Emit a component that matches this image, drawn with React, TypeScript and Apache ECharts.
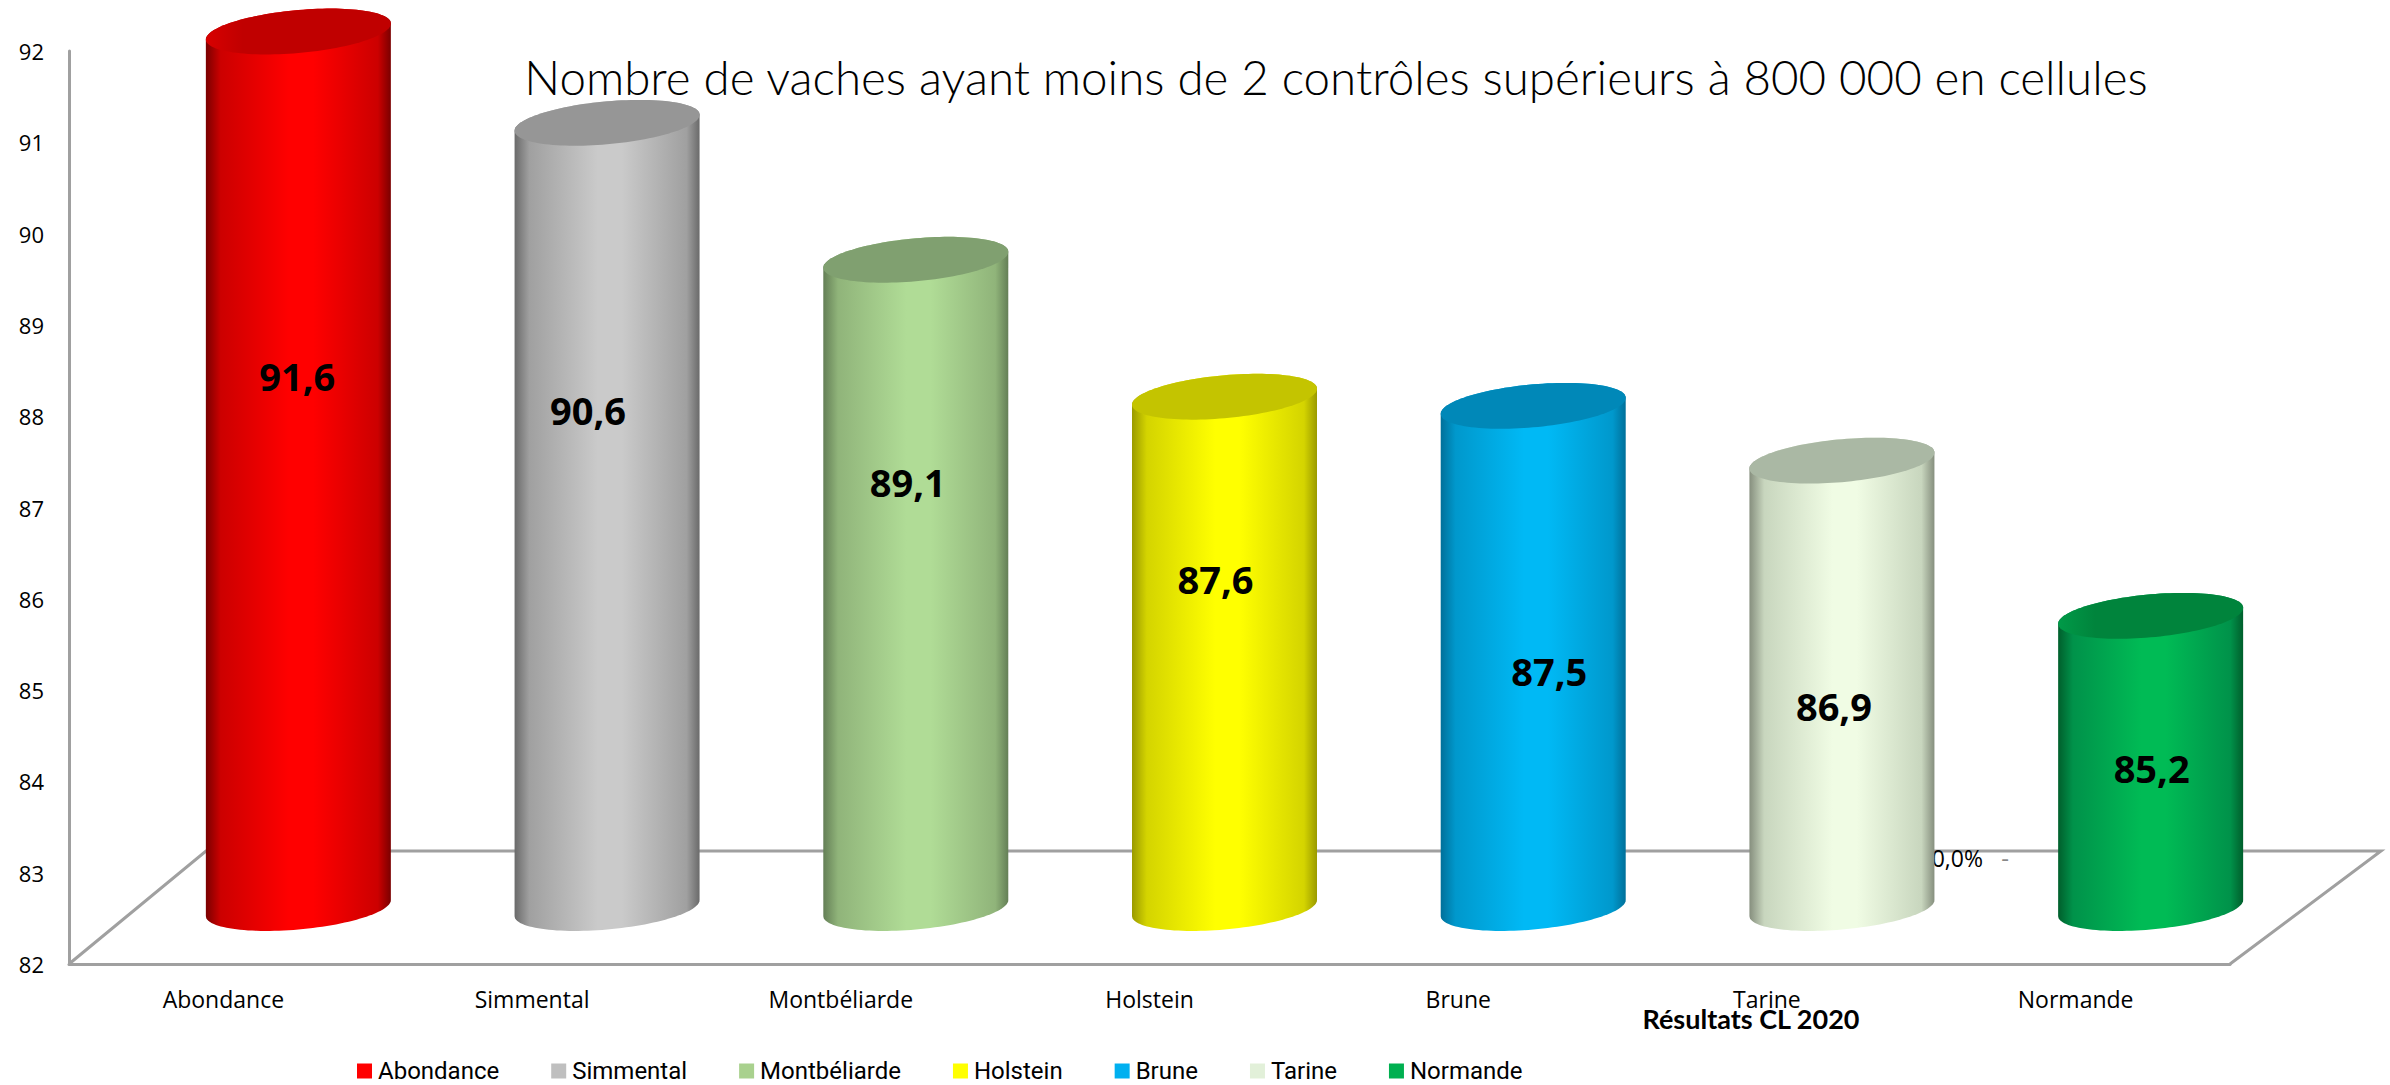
import React, { useEffect, useRef } from "react";
import * as echarts from "echarts";

const categories = ["Abondance", "Simmental", "Montbéliarde", "Holstein", "Brune", "Tarine", "Normande"];
const values = [91.6, 90.6, 89.1, 87.6, 87.5, 86.9, 85.2];
const baseColors = ["#FF0000", "#CACACA", "#B0DC96", "#FFFF00", "#00B9F5", "#F0FCE4", "#00BB55"];
const midColors = ["#CC0000", "#A0A0A0", "#90B47A", "#D4D400", "#0098CC", "#C8D6BE", "#00924A"];
const capColors = ["#C00000", "#969696", "#80A070", "#C4C400", "#0088B8", "#AAB8A4", "#00843C"];
const capRimColors = ["#D80000", "#969696", "#80A070", "#C4C400", "#0088B8", "#AAB8A4", "#009A48"];
const edgeColors = ["#7A0000", "#6A6A6A", "#647F56", "#9A9A00", "#00709A", "#868F7E", "#005F2C"];
const legendColors = ["#FF0000", "#BFBFBF", "#A9D18E", "#FFFF00", "#00B0F0", "#E2F0D9", "#00B050"];
const yTicks = [82, 83, 84, 85, 86, 87, 88, 89, 90, 91, 92];
const labelShiftX = [-1, -19, -8, -9, 16, -8, 1];
const labelShiftY = [-94, -105, -102, -73, 14, 22, 6];

const DEPTH_X = 75;
const DEPTH_Y = -56;
const RX = 92.5;
const TILT = -8;
const RY = 21.5;

const FONT = "'Open Sans', 'Noto Sans', sans-serif";

function ell(cx: number, cy: number, t: number): number[] {
  return [cx + RX * Math.cos(t), cy + TILT * Math.cos(t) + RY * Math.sin(t)];
}

function renderCylinder(idx: number) {
  return (_: any, api: any) => {
    const top = api.coord([api.value(0), api.value(1)]);
    const base = api.coord([api.value(0), 82]);
    const cx = top[0] + DEPTH_X;
    const topY = top[1] + DEPTH_Y;
    const baseY = base[1] + DEPTH_Y;
    const body: number[][] = [];
    const n = 60;
    for (let k = 0; k <= n; k++) body.push(ell(cx, baseY, (Math.PI * k) / n));
    for (let k = 0; k <= n; k++) body.push(ell(cx, topY, Math.PI + (Math.PI * k) / n));
    const cap: number[][] = [];
    for (let k = 0; k < 2 * n; k++) cap.push(ell(cx, topY, (Math.PI * k) / n));
    const midY = (topY + baseY) / 2 + labelShiftY[idx];
    return {
      type: "group",
      children: [
        {
          type: "polygon",
          shape: { points: body },
          style: {
            fill: {
              type: "linear", x: 0, y: 0, x2: 1, y2: 0,
              colorStops: [
                { offset: 0, color: edgeColors[idx] },
                { offset: 0.08, color: midColors[idx] },
                { offset: 0.45, color: baseColors[idx] },
                { offset: 0.58, color: baseColors[idx] },
                { offset: 0.93, color: midColors[idx] },
                { offset: 1, color: edgeColors[idx] },
              ],
            },
          },
        },
        {
          type: "polygon",
          shape: { points: cap },
          style: {
            fill: {
              type: "linear", x: 0, y: 0, x2: 1, y2: 0,
              colorStops: [
                { offset: 0, color: capRimColors[idx] },
                { offset: 0.2, color: capColors[idx] },
                { offset: 1, color: capColors[idx] },
              ],
            },
          },
        },
        {
          type: "text",
          z2: 20,
          style: {
            x: cx + labelShiftX[idx],
            y: midY,
            text: String(api.value(1)).replace(".", ","),
            font: `bold 38px ${FONT}`,
            fill: "#000",
            align: "center",
            verticalAlign: "middle",
          },
        },
      ],
    };
  };
}

export default function App() {
  const ref = useRef<HTMLDivElement>(null);
  useEffect(() => {
    document.body.style.margin = "0";
    const chart = echarts.init(ref.current!, undefined, { renderer: "svg" });
    chart.setOption({
      animation: false,
      backgroundColor: "#fff",
      grid: { left: 69, right: 160, top: 51, bottom: 121, containLabel: false },
      xAxis: {
        type: "category",
        data: categories,
        axisLine: { show: true, lineStyle: { color: "#A0A0A0", width: 3 } },
        axisTick: { show: false },
        axisLabel: { color: "#000", fontFamily: FONT, fontSize: 23, margin: 23 },
      },
      yAxis: {
        type: "value",
        min: yTicks[0],
        max: yTicks[yTicks.length - 1],
        interval: 1,
        axisLine: { show: true, lineStyle: { color: "#A0A0A0", width: 3 } },
        axisTick: { show: false },
        splitLine: { show: false },
        axisLabel: { color: "#000", fontFamily: FONT, fontSize: 22, margin: 25 },
      },
      legend: {
        left: 357,
        top: 1059,
        icon: "rect",
        itemWidth: 15,
        itemHeight: 15,
        itemGap: 52,
        padding: 0,
        textStyle: { color: "#000", fontFamily: "Roboto, sans-serif", fontSize: 24, lineHeight: 24, padding: [0, 0, 0, 1] },
        data: categories,
      },
      graphic: [
        {
          type: "polyline",
          z: 0,
          shape: { points: [[69, 964], [206, 851], [2381, 851], [2230, 964]] },
          style: { stroke: "#A0A0A0", lineWidth: 3, fill: "none" },
        },
        {
          type: "text",
          z: 1,
          x: 1983,
          y: 858,
          style: { text: "0,0%", font: `23px ${FONT}`, fill: "#000", align: "right", verticalAlign: "middle" },
        },
        {
          type: "text",
          z: 1,
          x: 2005,
          y: 857,
          style: { text: "-", font: `24px ${FONT}`, fill: "#888", align: "center", verticalAlign: "middle" },
        },
        {
          type: "text",
          z: 10,
          x: 1336,
          y: 76,
          style: {
            text: "Nombre de vaches ayant moins de 2 contrôles supérieurs à 800 000 en cellules",
            font: "300 47.5px Lato, sans-serif",
            fill: "#000",
            align: "center",
            verticalAlign: "middle",
          },
        },
        {
          type: "text",
          z: 10,
          x: 1751,
          y: 1018,
          style: {
            text: "Résultats CL 2020",
            font: "bold 27px Lato, sans-serif",
            fill: "#000",
            align: "center",
            verticalAlign: "middle",
          },
        },
      ],
      series: categories.map((name, i) => ({
        type: "custom",
        name,
        itemStyle: { color: legendColors[i] },
        encode: { x: 0, y: 1 },
        data: [[i, values[i]]],
        renderItem: renderCylinder(i),
      })),
    });
    return () => chart.dispose();
  }, []);
  return <div ref={ref} style={{ position: "fixed", left: 0, top: 0, width: 2390, height: 1085 }} />;
}
